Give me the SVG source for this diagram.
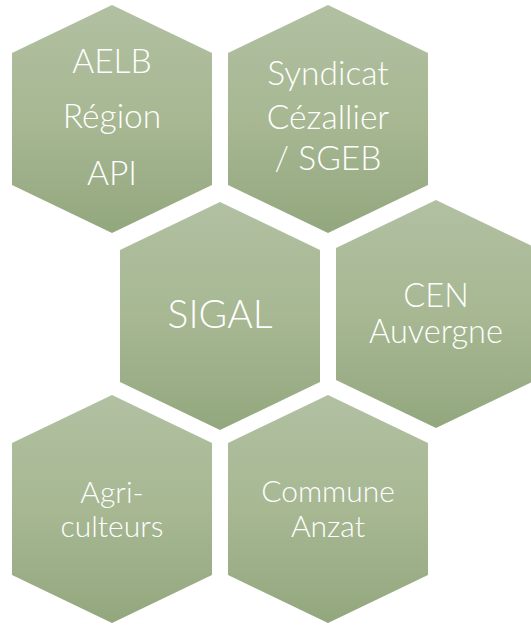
<svg xmlns="http://www.w3.org/2000/svg" xmlns:xlink="http://www.w3.org/1999/xlink" width="531" height="628" viewBox="0 0 531 628">
  <defs>
    <linearGradient id="g" x1="0" y1="0" x2="0" y2="1">
      <stop offset="0" stop-color="#b1c0a1"/>
      <stop offset="0.5" stop-color="#a7b893"/>
      <stop offset="1" stop-color="#93a77e"/>
    </linearGradient>
    <polygon id="hex" points="100,0 200,48 200,180 100,228 0,180 0,48"/>
    <style>
      .h { fill: url(#g); }
      text { font-family: Lato, "Liberation Sans", sans-serif; font-weight: 300; fill: #ffffff; text-anchor: middle; }
    </style>
  </defs>
  <rect width="531" height="628" fill="#ffffff"/>
  <g id="aelb">
    <use xlink:href="#hex" class="h" x="12" y="5"/>
    <text x="112" y="73" font-size="33.5">AELB</text>
    <text x="112" y="128" font-size="33.5">Région</text>
    <text x="112" y="185" font-size="33.5">API</text>
  </g>
  <g id="syndicat">
    <use xlink:href="#hex" class="h" x="228" y="5"/>
    <text x="328" y="85" font-size="33.5">Syndicat</text>
    <text x="328" y="129" font-size="33.5">Cézallier</text>
    <text x="328" y="170" font-size="33.5">/ SGEB</text>
  </g>
  <g id="sigal">
    <use xlink:href="#hex" class="h" x="120" y="202"/>
    <text x="220" y="328" font-size="39">SIGAL</text>
  </g>
  <g id="cen">
    <use xlink:href="#hex" class="h" x="336" y="200"/>
    <text x="436" y="307" font-size="32.5">CEN</text>
    <text x="436" y="343" font-size="32.5">Auvergne</text>
  </g>
  <g id="agri">
    <use xlink:href="#hex" class="h" x="12" y="395"/>
    <text x="112" y="503" font-size="30">Agri-</text>
    <text x="112" y="537" font-size="30">culteurs</text>
  </g>
  <g id="commune">
    <use xlink:href="#hex" class="h" x="228" y="395"/>
    <text x="328" y="502" font-size="30">Commune</text>
    <text x="328" y="537" font-size="30">Anzat</text>
  </g>
  <g id="connectors"/>
</svg>
